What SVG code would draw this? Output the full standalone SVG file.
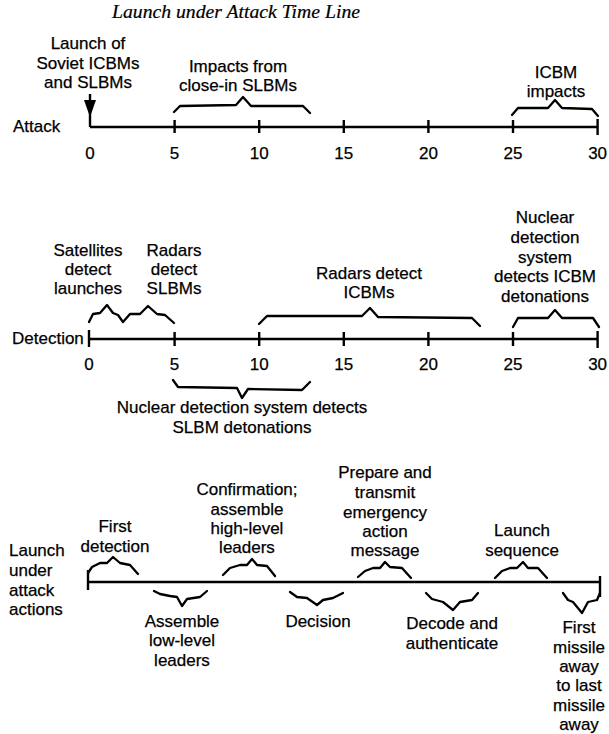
<svg xmlns="http://www.w3.org/2000/svg" width="609" height="734" viewBox="0 0 609 734">
<style>
text { font-family: "Liberation Sans", Arial, Helvetica, sans-serif; font-size: 17px; fill: #000; stroke: #000; stroke-width: 0.25; }
.c { text-anchor: middle; }
.title { font-family: "Liberation Serif", "Times New Roman", serif; font-style: italic; font-size: 18px; stroke-width: 0.2; }
.axis { stroke: #000; stroke-width: 2.6; fill: none; }
.tick { stroke: #000; stroke-width: 2.4; fill: none; }
.brace { stroke: #000; stroke-width: 2.3; fill: none; stroke-linejoin: round; stroke-linecap: round; }
.head { fill: #000; stroke: none; }
</style>
<rect width="609" height="734" fill="#fff"/>
<text id="title" class="title" x="112" y="18" textLength="248" lengthAdjust="spacingAndGlyphs">Launch under Attack Time Line</text>

<g id="axes">
<g id="attack-axis">
<text x="13" y="132">Attack</text>
<line class="axis" x1="90" y1="127" x2="598" y2="127"/>
<g class="tick">
<line x1="174.6" y1="120" x2="174.6" y2="133"/>
<line x1="259.2" y1="120" x2="259.2" y2="133"/>
<line x1="343.8" y1="120" x2="343.8" y2="133"/>
<line x1="428.4" y1="120" x2="428.4" y2="133"/>
<line x1="513" y1="120" x2="513" y2="133"/>
<line x1="597.6" y1="119" x2="597.6" y2="135"/>
</g>
<g class="c">
<text x="90" y="159">0</text><text x="174.6" y="159">5</text><text x="259.2" y="159">10</text><text x="343.8" y="159">15</text><text x="428.4" y="159">20</text><text x="513" y="159">25</text><text x="597.6" y="159">30</text>
</g>
</g>
<g id="detection-axis">
<text x="12" y="344">Detection</text>
<line class="axis" x1="89" y1="339" x2="598" y2="339"/>
<g class="tick">
<line x1="89" y1="330" x2="89" y2="347"/>
<line x1="174.6" y1="332" x2="174.6" y2="346"/>
<line x1="259.2" y1="332" x2="259.2" y2="346"/>
<line x1="343.8" y1="332" x2="343.8" y2="346"/>
<line x1="428.4" y1="332" x2="428.4" y2="346"/>
<line x1="513" y1="332" x2="513" y2="346"/>
<line x1="597.6" y1="331" x2="597.6" y2="348"/>
</g>
<g class="c">
<text x="89" y="370">0</text><text x="174.6" y="370">5</text><text x="259.2" y="370">10</text><text x="343.8" y="370">15</text><text x="428.4" y="370">20</text><text x="513" y="370">25</text><text x="597.6" y="370">30</text>
</g>
</g>
<g id="actions-axis">
<text x="9" y="556">Launch</text>
<text x="9" y="576">under</text>
<text x="9" y="596">attack</text>
<text x="9" y="615">actions</text>
<line class="axis" x1="88" y1="582" x2="600" y2="582"/>
<line class="tick" x1="88" y1="570" x2="88" y2="590"/>
<line class="tick" x1="600" y1="576" x2="600" y2="597"/>
</g>
</g>

<g id="connectors">
<line class="tick" x1="90" y1="94" x2="90" y2="127"/>
<polygon class="head" points="84,100 96,100 90,117"/>
</g>

<g id="launch-of-soviet">
<text class="c" x="88" y="49">Launch of</text>
<text class="c" x="88" y="69">Soviet ICBMs</text>
<text class="c" x="88" y="88">and SLBMs</text>
</g>

<g id="impacts-slbm">
<text class="c" x="238" y="72">Impacts from</text>
<text class="c" x="238" y="91">close-in SLBMs</text>
<polyline class="brace" points="174,112 180,106 236,105 243,97 251,106 303,106 310,113"/>
</g>

<g id="icbm-impacts">
<text class="c" x="556" y="78">ICBM</text>
<text class="c" x="556" y="97">impacts</text>
<polyline class="brace" points="512,115 518,108 548,108 555,100 562,108 592,109 598,116"/>
</g>

<g id="satellites-detect">
<text class="c" x="88" y="256">Satellites</text>
<text class="c" x="88" y="275">detect</text>
<text class="c" x="88" y="294">launches</text>
</g>

<g id="radars-detect-slbm">
<text class="c" x="174" y="256">Radars</text>
<text class="c" x="174" y="275">detect</text>
<text class="c" x="174" y="294">SLBMs</text>
<polyline class="brace" points="89,322 93,314 100,313 107,305 113,313 118,315 123,322 130,314 140,314 148,306 157,314 165,315 174,323"/>
</g>

<g id="radars-detect-icbm">
<text class="c" x="369" y="279">Radars detect</text>
<text class="c" x="369" y="298">ICBMs</text>
<polyline class="brace" points="259,324 267,316 362,316 370,308 378,317 472,318 480,326"/>
</g>

<g id="nuclear-icbm">
<text class="c" x="545" y="223">Nuclear</text>
<text class="c" x="545" y="243">detection</text>
<text class="c" x="545" y="263">system</text>
<text class="c" x="545" y="282">detects ICBM</text>
<text class="c" x="545" y="302">detonations</text>
<polyline class="brace" points="513,327 518,318 548,318 555,310 562,318 593,318 599,327"/>
</g>

<g id="nuclear-slbm">
<polyline class="brace" points="173,380 178,387 237,388 242,398 248,389 302,390 310,382"/>
<text class="c" x="242" y="413">Nuclear detection system detects</text>
<text class="c" x="242" y="433">SLBM detonations</text>
</g>

<g id="first-detection">
<text class="c" x="115" y="532">First</text>
<text class="c" x="115" y="552">detection</text>
<polyline class="brace" points="88,573 92,567 100,563 107,563 113,557 120,563 130,565 138,574"/>
</g>

<g id="assemble-low">
<polyline class="brace" points="154,591 160,594 170,596 177,597 182,606 187,599 200,597 207,591"/>
<text class="c" x="182" y="627">Assemble</text>
<text class="c" x="182" y="646">low-level</text>
<text class="c" x="182" y="666">leaders</text>
</g>

<g id="confirmation">
<text class="c" x="247" y="495">Confirmation;</text>
<text class="c" x="247" y="515">assemble</text>
<text class="c" x="247" y="534">high-level</text>
<text class="c" x="247" y="553">leaders</text>
<polyline class="brace" points="223,575 230,568 240,565 247,565 252,559 257,565 267,566 275,576"/>
</g>

<g id="decision">
<polyline class="brace" points="290,592 297,597 307,598 317,605 323,600 333,598 343,593"/>
<text class="c" x="318" y="627">Decision</text>
</g>

<g id="prepare-transmit">
<text class="c" x="385" y="478">Prepare and</text>
<text class="c" x="385" y="498">transmit</text>
<text class="c" x="385" y="518">emergency</text>
<text class="c" x="385" y="537">action</text>
<text class="c" x="385" y="556">message</text>
<polyline class="brace" points="358,577 365,571 373,568 380,568 385,562 390,567 402,568 411,578"/>
</g>

<g id="decode">
<polyline class="brace" points="426,593 432,599 443,602 453,610 460,602 472,600 478,593"/>
<text class="c" x="452" y="629">Decode and</text>
<text class="c" x="452" y="649">authenticate</text>
</g>

<g id="launch-sequence">
<text class="c" x="522" y="536">Launch</text>
<text class="c" x="522" y="556">sequence</text>
<polyline class="brace" points="495,578 502,571 510,568 517,568 523,562 528,568 538,568 547,578"/>
</g>

<g id="missiles-away">
<polyline class="brace" points="563,593 568,600 573,602 582,613 588,602 597,600 600,593"/>
<text class="c" x="579" y="633">First</text>
<text class="c" x="579" y="653">missile</text>
<text class="c" x="579" y="672">away</text>
<text class="c" x="579" y="691">to last</text>
<text class="c" x="579" y="711">missile</text>
<text class="c" x="579" y="730">away</text>
</g>
</svg>
